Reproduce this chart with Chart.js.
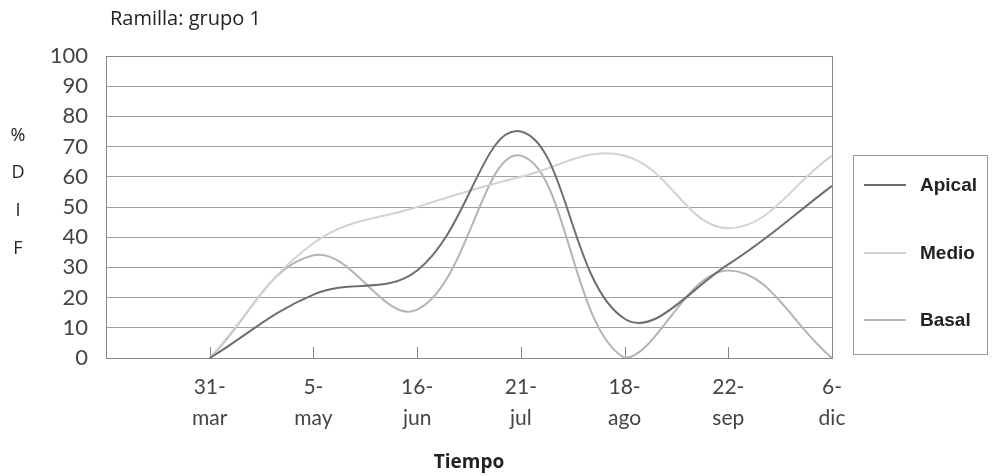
<!DOCTYPE html>
<html>
<head>
<meta charset="utf-8">
<script src="https://cdn.jsdelivr.net/npm/chart.js@4"></script>
<style>
  body { margin: 0; background: #fff; }
  #wrap { position: relative; width: 993px; height: 476px; }
  #c { position: absolute; left: 0; top: 0; }
  .txt { position: absolute; font-family: "Open Sans", sans-serif; color: #222; }
  #ttl { left: 110px; top: 4px; font-size: 20px; }
  .ylet { left: 10px; width: 16px; text-align: center; font-size: 18px; line-height: 22px; }
  #leg { position: absolute; left: 853px; top: 155px; width: 135px; height: 200px; border: 1px solid #999; box-sizing: border-box; }
  .li { position: absolute; left: 10px; height: 24px; font-family: "Liberation Sans", Arial, sans-serif; font-weight: bold; font-size: 19px; color: #222; }
  .li span.sw { position: absolute; left: 0; top: 11px; width: 42px; height: 2px; }
  .li span.lb { position: absolute; left: 56px; top: 0; line-height: 24px; }
</style>
</head>
<body>
<div id="wrap">
  <canvas id="c" width="993" height="476"></canvas>
  <div class="txt" id="ttl">Ramilla: grupo 1</div>
  <div class="txt ylet" style="top:123px">%</div>
  <div class="txt ylet" style="top:160px">D</div>
  <div class="txt ylet" style="top:198px">I</div>
  <div class="txt ylet" style="top:236px">F</div>
  <div id="leg"></div>
</div>
<script>
// categorias (la primera va vacia, el eje empieza un paso antes)
let fechas = [["", ""], ["31-", "mar"], ["5-", "may"], ["16-", "jun"], ["21-", "jul"], ["18-", "ago"], ["22-", "sep"], ["6-", "dic"]];
let apical = [null, 0, 21, 29, 75, 13, 31, 57];
let medio = [null, 0, 38, 50, 60, 67, 43, 67];
let basal = [null, 0, 34, 16, 67, 0, 29, 0];
let yTicks = [0, 10, 20, 30, 40, 50, 60, 70, 80, 90, 100];

let colores = ["#6e6e6e", "#d2d2d2", "#b4b4b4"];
let nombres = ["Apical", "Medio", "Basal"];
let series = [apical, medio, basal];

// marco del area y marcas del eje x hacia dentro
let marco = {
  id: "marco",
  beforeDatasetsDraw(chart) {
    let a = chart.chartArea, ctx = chart.ctx;
    ctx.save();
    ctx.strokeStyle = "#888";
    ctx.lineWidth = 1;
    ctx.strokeRect(a.left + 0.5, a.top + 0.5, a.right - a.left, a.bottom - a.top);
    let x = chart.scales.x;
    for (let i = 1; i < fechas.length; i++) {
      let px = Math.round(x.getPixelForTick(i)) + 0.5;
      ctx.beginPath();
      ctx.moveTo(px, a.bottom);
      ctx.lineTo(px, a.bottom - 11);
      ctx.stroke();
    }
    ctx.restore();
  }
};

let chart = new Chart(document.getElementById("c"), {
  type: "line",
  data: {
    labels: fechas,
    datasets: series.map((d, i) => ({
      label: nombres[i],
      data: d,
      borderColor: colores[i],
      backgroundColor: colores[i],
      borderWidth: 2,
      pointRadius: 0,
      tension: 0.4,
      fill: false
    }))
  },
  options: {
    responsive: false,
    animation: false,
    layout: { padding: { top: 56, right: 161, left: 0, bottom: 2 } },
    plugins: {
      legend: { display: false },
      tooltip: { enabled: false }
    },
    scales: {
      x: {
        offset: false,
        grid: { display: false },
        border: { display: false },
        ticks: {
          padding: 5,
          maxRotation: 0,
          autoSkip: false,
          color: "#444",
          font: { family: "Lato, 'Open Sans', sans-serif", size: 21, lineHeight: 1.5 }
        },
        title: {
          display: true,
          text: "Tiempo",
          color: "#222",
          padding: { top: 0, bottom: 0 },
          font: { family: "'Open Sans', sans-serif", size: 19, weight: "bold" }
        },
        afterFit(s) { s.height = 116; }
      },
      y: {
        min: 0,
        max: 100,
        afterBuildTicks(s) { s.ticks = yTicks.map(v => ({ value: v })); },
        grid: { color: "#a0a0a0", lineWidth: 1, drawTicks: false },
        border: { display: false },
        ticks: {
          padding: 18,
          autoSkip: false,
          color: "#444",
          font: { family: "Lato, 'Open Sans', sans-serif", size: 22 }
        },
        afterFit(s) { s.width = 106; }
      }
    }
  },
  plugins: [marco]
});

// leyenda a mano, desde los datasets
let leg = document.getElementById("leg");
let tops = [17, 85, 152];
chart.data.datasets.forEach((ds, i) => {
  let d = document.createElement("div");
  d.className = "li";
  d.style.top = tops[i] + "px";
  d.innerHTML = '<span class="sw" style="background:' + ds.borderColor + '"></span><span class="lb">' + ds.label + '</span>';
  leg.appendChild(d);
});
</script>
</body>
</html>
